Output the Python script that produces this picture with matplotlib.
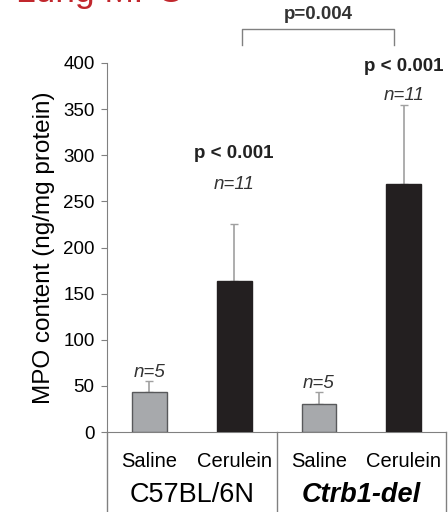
import numpy as np
import matplotlib.pyplot as plt

plt.rcParams['font.family'] = ['Liberation Sans', 'DejaVu Sans']

# Data
treatments = ['Saline', 'Cerulein', 'Saline', 'Cerulein']
strains = ['C57BL/6N', 'Ctrb1-del']
mpo_mean = [43, 164, 31, 269]
mpo_err = [12, 62, 12, 85]
n_labels = ['n=5', 'n=11', 'n=5', 'n=11']
p_labels = ['', 'p < 0.001', '', 'p < 0.001']
p_between = 'p=0.004'

x = np.arange(len(treatments)) + 0.5
colors = ['#a7a9ac', '#231f20', '#a7a9ac', '#231f20']
edges = ['#58595b', '#231f20', '#58595b', '#231f20']

fig = plt.figure(figsize=(4.48, 5.12), dpi=100)
ax = fig.add_axes([0.239, 0.156, 0.757, 0.721])

ax.bar(x, mpo_mean, width=0.41, color=colors, edgecolor=edges, linewidth=1, zorder=3)
ax.errorbar(x, mpo_mean, yerr=[np.zeros(4), mpo_err], fmt='none',
            ecolor='#a0a0a0', elinewidth=1.2, capsize=3, capthick=1, zorder=2)

ax.set_xlim(0, 4)
ax.set_ylim(0, 400)
ax.set_yticks(np.arange(0, 401, 50))
ax.set_xticks([])
ax.tick_params(axis='y', direction='out', length=4, color='#808080', labelsize=13.5, pad=5)
for s in ['top', 'right']:
    ax.spines[s].set_visible(False)
ax.spines['left'].set_color('#808080')
ax.spines['bottom'].set_color('#808080')
ax.set_ylabel('MPO content (ng/mg protein)', fontsize=17.5, labelpad=6)

# annotations above bars
n_y = [65, 268, 53, 365]
for xi, lab, ny in zip(x, n_labels, n_y):
    ax.text(xi, ny, lab, ha='center', va='center', fontsize=13.5, style='italic', color='#333333')
p_y = [0, 302, 0, 396]
for xi, lab, py in zip(x, p_labels, p_y):
    if lab:
        ax.text(xi, py, lab, ha='center', va='center', fontsize=13.5, fontweight='bold', color='#222222',
                clip_on=False)

# bracket between Cerulein groups
bx0, bx1 = x[1] + 0.09, x[3] - 0.11
ax.plot([bx0, bx0, bx1, bx1], [419, 437, 437, 419], color='#808080', lw=1, clip_on=False)
ax.text((bx0 + bx1) / 2, 452, p_between, ha='center', va='center', fontsize=13.5,
        fontweight='bold', color='#333333', clip_on=False)

# category table below the axis
trans = ax.get_xaxis_transform()
for xv in [0, 2, 4]:
    ax.plot([xv, xv], [0, -0.23], color='#808080', lw=1, transform=trans, clip_on=False)
for xi, lab in zip(x, treatments):
    ax.text(xi, -0.079, lab, ha='center', va='center', fontsize=14.5, transform=trans)
ax.text(1, -0.171, strains[0], ha='center', va='center', fontsize=19.5, transform=trans)
ax.text(3, -0.171, strains[1], ha='center', va='center', fontsize=19.5, transform=trans,
        fontweight='bold', style='italic')

# cropped panel title
fig.text(0.035, 0.996, 'Lung MPO', color='#c1272d', fontsize=25.5, ha='left', va='baseline')

fig.savefig('out.png', dpi=100)
